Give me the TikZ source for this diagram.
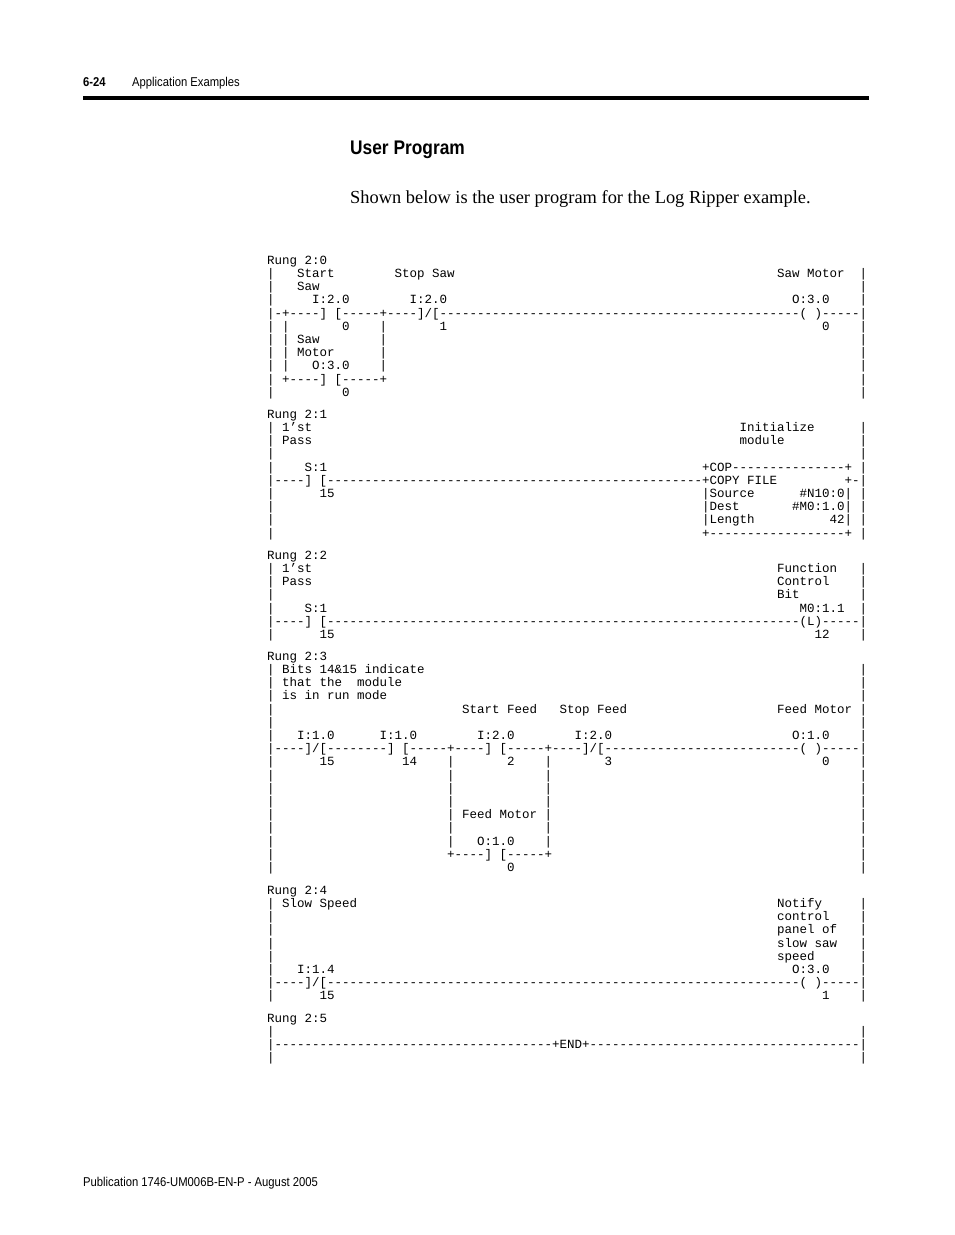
\documentclass[tikz,border=0pt]{standalone}
\usepackage{fontspec}
\setmainfont{Liberation Serif}
\newfontfamily\ladfont{Liberation Mono}[Ligatures=TeXOff]
\newfontfamily\hdrfont{Liberation Sans}[FakeStretch=0.88]
\ExplSyntaxOn
\cs_new:Npn \dashes #1 {\prg_replicate:nn{#1}{-}}
\ExplSyntaxOff
\tikzset{
  lad/.style={anchor=base west, inner sep=0pt, font=\ladfont\fontsize{12.5}{13}\selectfont},
  hdr/.style={anchor=base west, inner sep=0pt, font=\hdrfont\fontsize{12.8}{14}\selectfont}
}
% one ladder token: column, row of the current rung, text
\newcommand\ld[3]{\node[lad] at ({267+7.5*#1},{\rb+13.2*#2+4.3}) {#3};}
% side rails of a rung with rows 1..#1
\newcommand\rails[1]{\foreach \k in {1,...,#1} {\ld{0}{\k}{|}\ld{79}{\k}{|}}}
\begin{document}
\begin{tikzpicture}[x=1pt,y=-1pt]
\useasboundingbox (0,0) rectangle (954,1235);

% Page header
\node[hdr, font=\hdrfont\bfseries\fontsize{12.8}{14}\selectfont] (pgno) at (83,86) {6-24};
\node[hdr] (chap) at (132,86) {Application Examples};
\fill (83,95.5) rectangle (869,99.5);
\node[anchor=base west, inner sep=0pt, font=\hdrfont\bfseries\fontsize{19.7}{24}\selectfont] (title) at (350,154) {User Program};
\node[anchor=base west, inner sep=0pt, font=\fontsize{18.4}{21}\selectfont] (intro) at (350,203)
  {Shown below is the user program for the Log Ripper example.};

% Rung 2:0
\def\rb{260}
\ld{0}{0}{Rung 2:0}
\rails{10}
\ld{4}{1}{Start}\ld{17}{1}{Stop Saw}\ld{68}{1}{Saw Motor}
\ld{4}{2}{Saw}
\ld{6}{3}{I:2.0}\ld{19}{3}{I:2.0}\ld{70}{3}{O:3.0}
\ld{1}{4}{-+----] [-----+----]/[\dashes{48}( )-----}
\ld{2}{5}{|}\ld{10}{5}{0}\ld{15}{5}{|}\ld{23}{5}{1}\ld{74}{5}{0}
\ld{2}{6}{|}\ld{4}{6}{Saw}\ld{15}{6}{|}
\ld{2}{7}{|}\ld{4}{7}{Motor}\ld{15}{7}{|}
\ld{2}{8}{|}\ld{6}{8}{O:3.0}\ld{15}{8}{|}
\ld{2}{9}{+----] [-----+}
\ld{10}{10}{0}

% Rung 2:1
\def\rb{414}
\ld{0}{0}{Rung 2:1}
\rails{9}
\ld{2}{1}{1’st}\ld{63}{1}{Initialize}
\ld{2}{2}{Pass}\ld{63}{2}{module}
\ld{5}{4}{S:1}\ld{58}{4}{+COP\dashes{15}+}
\ld{1}{5}{----] [\dashes{50}+COPY FILE}\ld{77}{5}{+-}
\ld{7}{6}{15}\ld{58}{6}{|Source}\ld{71}{6}{\#N10:0|}
\ld{58}{7}{|Dest}\ld{70}{7}{\#M0:1.0|}
\ld{58}{8}{|Length}\ld{75}{8}{42|}
\ld{58}{9}{+\dashes{18}+}

% Rung 2:2
\def\rb{555}
\ld{0}{0}{Rung 2:2}
\rails{6}
\ld{2}{1}{1’st}\ld{68}{1}{Function}
\ld{2}{2}{Pass}\ld{68}{2}{Control}
\ld{68}{3}{Bit}
\ld{5}{4}{S:1}\ld{71}{4}{M0:1.1}
\ld{1}{5}{----] [\dashes{63}(L)-----}
\ld{7}{6}{15}\ld{73}{6}{12}

% Rung 2:3
\def\rb{656}
\ld{0}{0}{Rung 2:3}
\rails{16}
\ld{2}{1}{Bits 14\&15 indicate}
\ld{2}{2}{that the}\ld{12}{2}{module}
\ld{2}{3}{is in run mode}
\ld{26}{4}{Start Feed}\ld{39}{4}{Stop Feed}\ld{68}{4}{Feed Motor}
\ld{4}{6}{I:1.0}\ld{15}{6}{I:1.0}\ld{28}{6}{I:2.0}\ld{41}{6}{I:2.0}\ld{70}{6}{O:1.0}
\ld{1}{7}{----]/[--------] [-----+----] [-----+----]/[\dashes{26}( )-----}
\ld{7}{8}{15}\ld{18}{8}{14}\ld{32}{8}{2}\ld{45}{8}{3}\ld{74}{8}{0}
\foreach \k in {8,...,14} {\ld{24}{\k}{|}\ld{37}{\k}{|}}
\ld{26}{12}{Feed Motor}
\ld{28}{14}{O:1.0}
\ld{24}{15}{+----] [-----+}
\ld{32}{16}{0}

% Rung 2:4
\def\rb{890}
\ld{0}{0}{Rung 2:4}
\rails{8}
\ld{2}{1}{Slow Speed}\ld{68}{1}{Notify}
\ld{68}{2}{control}
\ld{68}{3}{panel of}
\ld{68}{4}{slow saw}
\ld{68}{5}{speed}
\ld{4}{6}{I:1.4}\ld{70}{6}{O:3.0}
\ld{1}{7}{----]/[\dashes{63}( )-----}
\ld{7}{8}{15}\ld{74}{8}{1}

% Rung 2:5
\def\rb{1018}
\ld{0}{0}{Rung 2:5}
\rails{3}
\ld{1}{2}{\dashes{37}+END+\dashes{36}}

% Page footer
\node[hdr] (pub) at (83,1186) {Publication 1746-UM006B-EN-P - August 2005};
\end{tikzpicture}
\end{document}
